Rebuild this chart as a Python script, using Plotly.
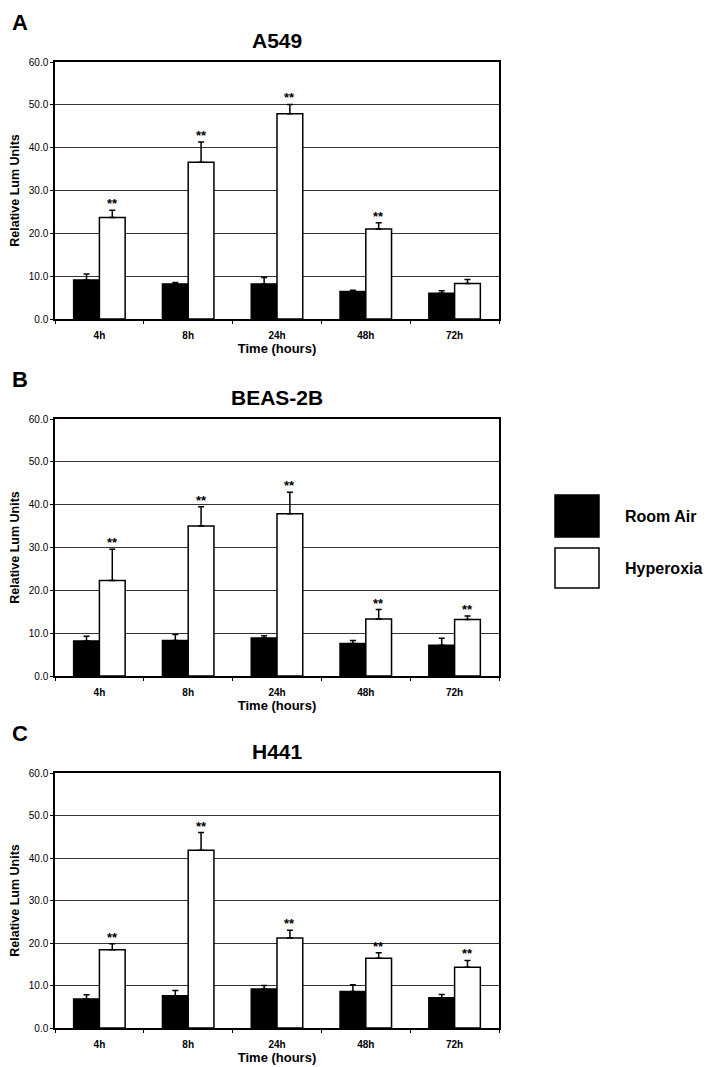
import plotly.graph_objects as go

# Datos (media y error estándar, solo hacia arriba)
times = ["4h", "8h", "24h", "48h", "72h"]
cell_lines = ["A549", "BEAS-2B", "H441"]
panel_letters = ["A", "B", "C"]

a549_room_air = [9.1, 8.2, 8.2, 6.4, 6.0]
a549_room_air_err = [1.4, 0.3, 1.5, 0.3, 0.6]
a549_hyperoxia = [23.7, 36.6, 47.9, 21.0, 8.3]
a549_hyperoxia_err = [1.7, 4.7, 2.2, 1.5, 0.9]
a549_signif = ["**", "**", "**", "**", ""]

beas_room_air = [8.2, 8.3, 8.9, 7.6, 7.2]
beas_room_air_err = [1.1, 1.4, 0.5, 0.7, 1.6]
beas_hyperoxia = [22.3, 35.0, 37.9, 13.3, 13.2]
beas_hyperoxia_err = [7.3, 4.5, 5.0, 2.2, 0.8]
beas_signif = ["**", "**", "**", "**", "**"]

h441_room_air = [6.8, 7.6, 9.2, 8.6, 7.1]
h441_room_air_err = [1.0, 1.2, 0.8, 1.6, 0.8]
h441_hyperoxia = [18.4, 41.8, 21.2, 16.4, 14.3]
h441_hyperoxia_err = [1.4, 4.2, 1.8, 1.3, 1.6]
h441_signif = ["**", "**", "**", "**", "**"]

y_ticks = [0, 10, 20, 30, 40, 50, 60]

panels = [
    (a549_room_air, a549_room_air_err, a549_hyperoxia, a549_hyperoxia_err, a549_signif),
    (beas_room_air, beas_room_air_err, beas_hyperoxia, beas_hyperoxia_err, beas_signif),
    (h441_room_air, h441_room_air_err, h441_hyperoxia, h441_hyperoxia_err, h441_signif),
]

# la página html tiene 8px de margen en el body; se compensa
OFF = 8
W, H = 714 - OFF, 1067 - OFF
FONT = "Liberation Sans, Arial, sans-serif"
BARGAP = 0.42


def px_x(x):
    return (x - OFF) / W


def px_y(y):
    return 1 - (y - OFF) / H


# posiciones en pixeles de la pantalla: (izq, der) y (arriba, abajo) de cada panel
x_px = (55, 499)
y_px = [(62, 319), (419, 676), (773, 1028)]

fig = go.Figure()
annotations = []

for i, (ra, ra_err, hy, hy_err, signif) in enumerate(panels):
    n = "" if i == 0 else str(i + 1)
    xa, ya = "x" + n, "y" + n

    fig.add_trace(go.Bar(
        x=times, y=ra, name="Room Air", xaxis=xa, yaxis=ya,
        marker=dict(color="black", line=dict(color="black", width=1.5)),
        error_y=dict(type="data", array=ra_err, symmetric=False,
                     arrayminus=[0] * len(ra), color="black", thickness=1.5, width=3),
        showlegend=False,
    ))
    fig.add_trace(go.Bar(
        x=times, y=hy, name="Hyperoxia", xaxis=xa, yaxis=ya,
        marker=dict(color="white", line=dict(color="black", width=1.5)),
        error_y=dict(type="data", array=hy_err, symmetric=False,
                     arrayminus=[0] * len(hy), color="black", thickness=1.5, width=3),
        showlegend=False,
    ))

    # asteriscos de significancia sobre las barras de hiperoxia
    offset = (1 - BARGAP) / 4
    for j, s in enumerate(signif):
        if s:
            annotations.append(dict(
                x=j + offset, y=hy[j] + hy_err[j], xref=xa, yref=ya,
                text="<b>" + s + "</b>", showarrow=False, yanchor="bottom",
                yshift=-3, font=dict(size=13, color="black", family=FONT),
            ))

    top, bottom = y_px[i]

    fig.update_layout({
        ("xaxis" + n): dict(
            domain=[px_x(x_px[0]), px_x(x_px[1])], anchor=ya, type="category",
            categoryorder="array", categoryarray=times,
            showline=True, linecolor="black", linewidth=1.5,
            mirror=True, ticks="outside", tickson="boundaries", ticklen=3,
            tickcolor="black", ticklabelstandoff=6, automargin=False,
            tickfont=dict(size=10, color="black", family=FONT),
            tickprefix="<b>", ticksuffix="</b>",
            title=dict(text="<b>Time (hours)</b>", standoff=0,
                       font=dict(size=13, color="black", family=FONT)),
            showgrid=False, fixedrange=True,
        ),
        ("yaxis" + n): dict(
            domain=[px_y(bottom), px_y(top)], anchor=xa, range=[0, 60], tickvals=y_ticks,
            tickformat=".1f", showline=True, linecolor="black", linewidth=1.5,
            mirror=True, ticks="outside", ticklen=3, tickcolor="black",
            tickfont=dict(size=10, color="black", family=FONT),
            tickprefix="<b>", ticksuffix="</b>", automargin=False,
            showgrid=True, gridcolor="#333333", gridwidth=1.3,
            zeroline=False,
            title=dict(text="<b>Relative Lum Units</b>", standoff=8,
                       font=dict(size=12.5, color="black", family=FONT)),
            fixedrange=True,
        ),
    })

    # título del panel y letra
    annotations.append(dict(
        x=px_x((x_px[0] + x_px[1]) / 2), y=px_y(top - 22), xref="paper", yref="paper",
        xanchor="center", yanchor="middle",
        text="<b>" + cell_lines[i] + "</b>", showarrow=False,
        font=dict(size=21, color="black", family=FONT),
    ))
    annotations.append(dict(
        x=px_x(10), y=px_y(top - 40), xref="paper", yref="paper",
        xanchor="left", yanchor="middle",
        text="<b>" + panel_letters[i] + "</b>", showarrow=False,
        font=dict(size=22, color="black", family=FONT),
    ))

# leyenda dibujada a mano (cuadros grandes)
legend_items = [("Room Air", "black", 495, 537), ("Hyperoxia", "white", 548, 588)]
shapes = []
for label, color, y0, y1 in legend_items:
    shapes.append(dict(
        type="rect", xref="paper", yref="paper",
        x0=px_x(555), x1=px_x(599), y0=px_y(y1), y1=px_y(y0),
        fillcolor=color, line=dict(color="black", width=1.5),
    ))
    annotations.append(dict(
        x=px_x(623), y=px_y((y0 + y1) / 2), xref="paper", yref="paper",
        text="<b>" + label + "</b>", showarrow=False, xanchor="left", yanchor="middle",
        font=dict(size=16, color="black", family=FONT),
    ))

fig.update_layout(
    width=W, height=H,
    margin=dict(l=0, r=0, t=0, b=0),
    barmode="group", bargap=BARGAP, bargroupgap=0,
    plot_bgcolor="white", paper_bgcolor="white",
    annotations=annotations, shapes=shapes,
    font=dict(family=FONT, color="black"),
)

fig.write_html("out.html")
